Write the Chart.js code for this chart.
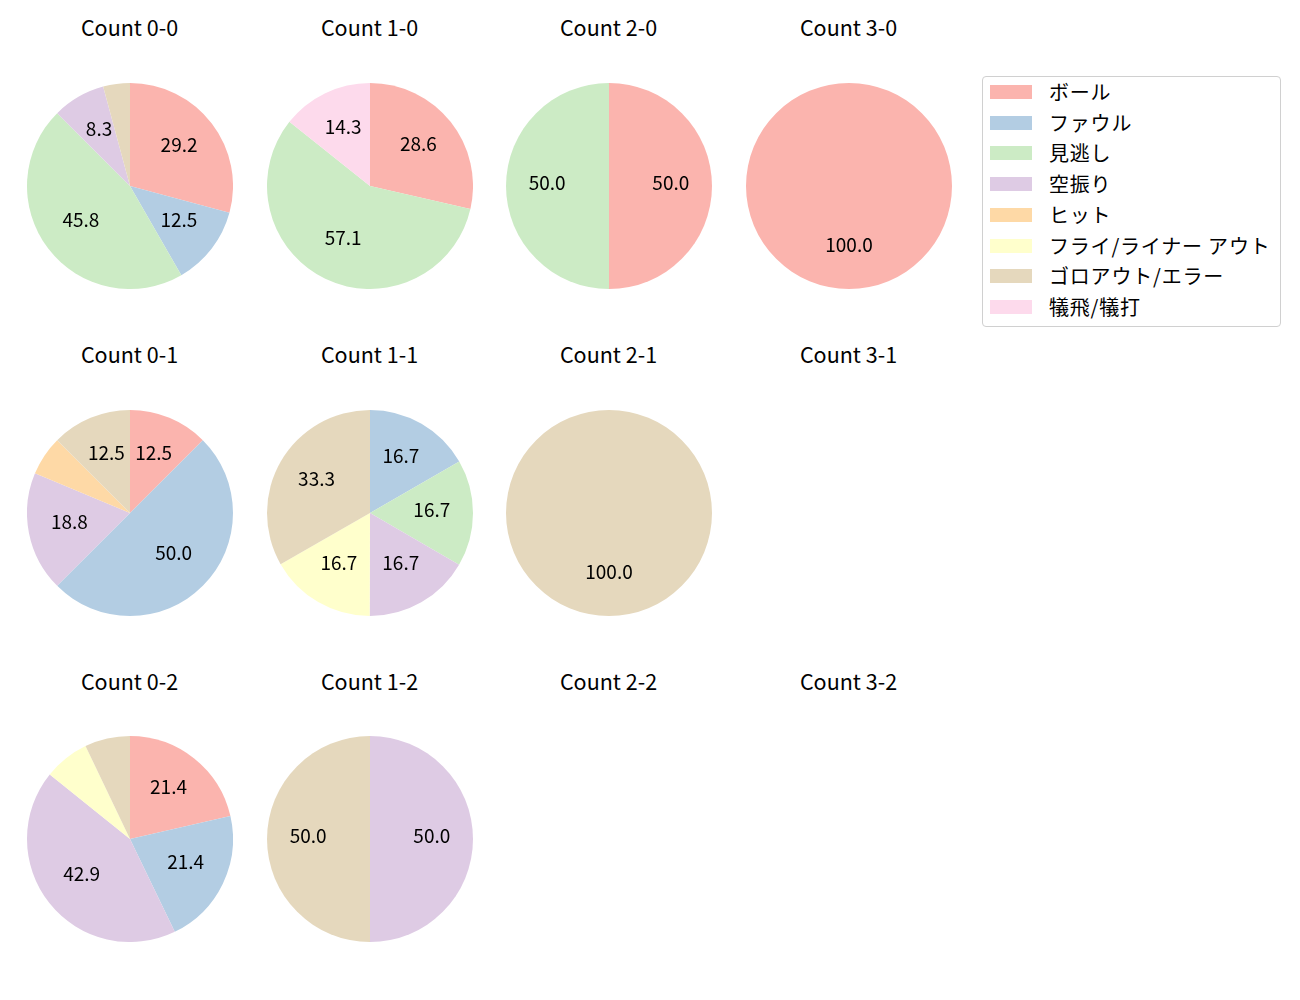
<!DOCTYPE html>
<html>
<head>
<meta charset="utf-8">
<script src="https://cdn.jsdelivr.net/npm/chart.js@4.4.0/dist/chart.umd.min.js"></script>
<style>
  body { margin: 0; background: #fff; font-family: "Noto Sans CJK JP", "Noto Sans", sans-serif; }
  #page { position: relative; width: 1300px; height: 1000px; }
  .title { position: absolute; width: 240px; text-align: center; font-size: 21.5px; color: #000; line-height: 24px; }
  .pie { position: absolute; width: 206px; height: 206px; }
  #legend { position: absolute; left: 982px; top: 76px; width: 297px; height: 249px; border: 1px solid #d0d0d0; border-radius: 4px; }
  .item { position: absolute; left: 7px; height: 22px; font-size: 20px; line-height: 22px; color: #000; }
  .sw { position: absolute; left: 0; top: 4px; width: 42px; height: 14px; }
  .lab { position: absolute; left: 59px; white-space: nowrap; letter-spacing: 0.8px; }
</style>
</head>
<body>
<div id="page"><div id="legend"></div></div>
<script>
var Categories = ['ボール', 'ファウル', '見逃し', '空振り', 'ヒット', 'フライ/ライナー アウト', 'ゴロアウト/エラー', '犠飛/犠打']
var Colors = ['#fbb4ae', '#b3cde3', '#ccebc5', '#decbe4', '#fed9a6', '#ffffcc', '#e5d8bd', '#fddaec']

// percentages per count, in category order
var Count_0_0 = [29.2, 12.5, 45.8, 8.3, 0, 0, 4.2, 0]
var Count_1_0 = [28.6, 0, 57.1, 0, 0, 0, 0, 14.3]
var Count_2_0 = [50.0, 0, 50.0, 0, 0, 0, 0, 0]
var Count_3_0 = [100.0, 0, 0, 0, 0, 0, 0, 0]
var Count_0_1 = [12.5, 50.0, 0, 18.8, 6.2, 0, 12.5, 0]
var Count_1_1 = [0, 16.7, 16.7, 16.7, 0, 16.7, 33.3, 0]
var Count_2_1 = [0, 0, 0, 0, 0, 0, 100.0, 0]
var Count_3_1 = [0, 0, 0, 0, 0, 0, 0, 0]
var Count_0_2 = [21.4, 21.4, 0, 42.9, 0, 7.1, 7.1, 0]
var Count_1_2 = [0, 0, 0, 50.0, 0, 0, 50.0, 0]
var Count_2_2 = [0, 0, 0, 0, 0, 0, 0, 0]
var Count_3_2 = [0, 0, 0, 0, 0, 0, 0, 0]

var Panels = [
    ['Count 0-0', Count_0_0], ['Count 1-0', Count_1_0], ['Count 2-0', Count_2_0], ['Count 3-0', Count_3_0],
    ['Count 0-1', Count_0_1], ['Count 1-1', Count_1_1], ['Count 2-1', Count_2_1], ['Count 3-1', Count_3_1],
    ['Count 0-2', Count_0_2], ['Count 1-2', Count_1_2], ['Count 2-2', Count_2_2], ['Count 3-2', Count_3_2],
]

var CenterX = [129.5, 369.5, 608.5, 848.5]
var CenterY = [186, 512.5, 838.5]
var TitleY = [28, 355, 682]

// draws percent text at 0.6 of the radius like matplotlib autopct
var PctLabels = {
    id: 'pctLabels',
    afterDatasetsDraw: function (chart) {
        var ctx = chart.ctx
        var meta = chart.getDatasetMeta(0)
        var data = chart.data.datasets[0].data
        ctx.save()
        ctx.fillStyle = '#000'
        ctx.font = '19px "Noto Sans CJK JP", "Noto Sans", sans-serif'
        ctx.textAlign = 'center'
        ctx.textBaseline = 'middle'
        meta.data.forEach(function (arc, i) {
            if (data[i] < 7.5) return
            var p = arc.getProps(['x', 'y', 'startAngle', 'endAngle', 'outerRadius'], true)
            var mid = (p.startAngle + p.endAngle) / 2
            var r = p.outerRadius * 0.6
            ctx.fillText(data[i].toFixed(1), p.x + Math.cos(mid) * r, p.y + Math.sin(mid) * r - 3.5)
        })
        ctx.restore()
    }
}

var page = document.getElementById('page')

Panels.forEach(function (panel, k) {
    var col = k % 4
    var row = Math.floor(k / 4)

    var t = document.createElement('div')
    t.className = 'title'
    t.textContent = panel[0]
    t.style.left = (CenterX[col] - 120) + 'px'
    t.style.top = (TitleY[row] - 13.5) + 'px'
    page.appendChild(t)

    var total = panel[1].reduce(function (a, b) { return a + b }, 0)
    if (total === 0) return

    var box = document.createElement('div')
    box.className = 'pie'
    box.style.left = (CenterX[col] - 103) + 'px'
    box.style.top = (CenterY[row] - 103) + 'px'
    var cv = document.createElement('canvas')
    cv.width = 206
    cv.height = 206
    box.appendChild(cv)
    page.appendChild(box)

    new Chart(cv.getContext('2d'), {
        type: 'pie',
        data: {
            labels: Categories,
            datasets: [{
                data: panel[1],
                backgroundColor: Colors,
                borderWidth: 0,
            }],
        },
        plugins: [PctLabels],
        options: {
            responsive: false,
            animation: false,
            layout: { padding: 0 },
            plugins: {
                legend: { display: false },
                tooltip: { enabled: false },
            },
        },
    })
})

var legend = document.getElementById('legend')
Categories.forEach(function (name, i) {
    var it = document.createElement('div')
    it.className = 'item'
    it.style.top = (4 + i * 30.7) + 'px'
    it.innerHTML = '<div class="sw" style="background:' + Colors[i] + '"></div><span class="lab"></span>'
    it.querySelector('.lab').textContent = name
    legend.appendChild(it)
})
</script>
</body>
</html>
